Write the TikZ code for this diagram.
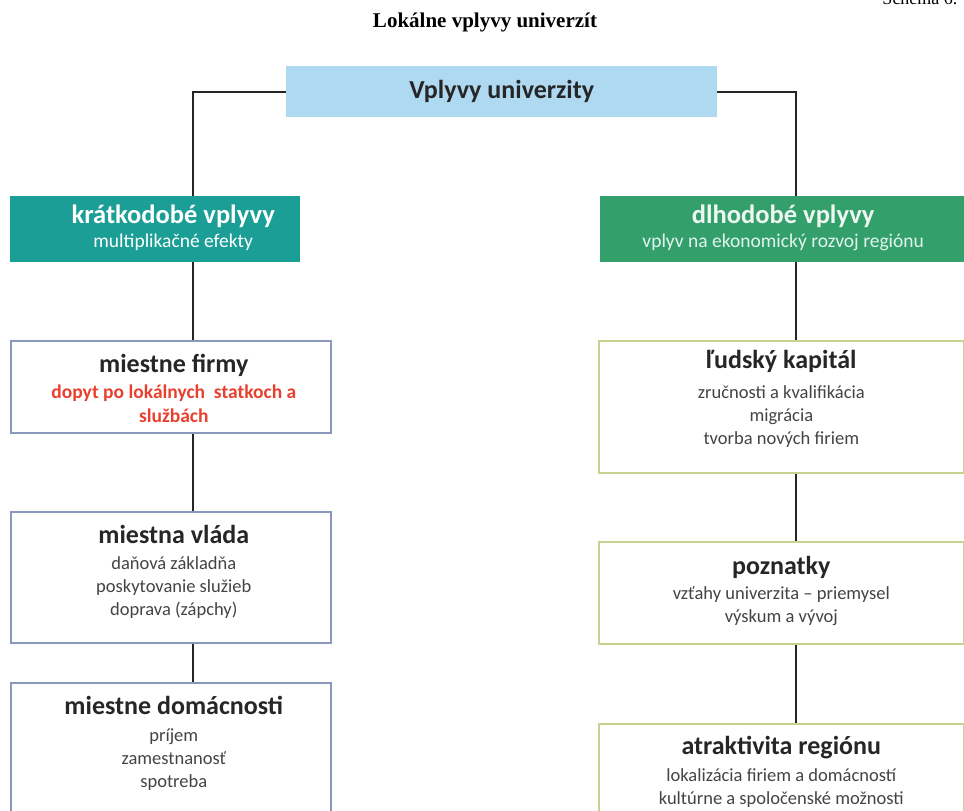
\documentclass[tikz,border=0pt]{standalone}
\usepackage{fontspec}
\setmainfont{Carlito}
\newfontfamily\titulfont{Liberation Serif}
\newcommand{\hlavafont}{\bfseries\fontsize{26}{28}\selectfont}
\definecolor{modra}{HTML}{AED9F1}
\definecolor{tyrkys}{HTML}{1A9E96}
\definecolor{zelena}{HTML}{33A06C}
\definecolor{ramecl}{HTML}{8A98BD}
\definecolor{ramecp}{HTML}{C8D18F}
\definecolor{cervena}{HTML}{E8402F}
\definecolor{seda}{HTML}{444444}
\definecolor{svetla}{HTML}{E2F4EE}
\begin{document}
\begin{tikzpicture}[x=1pt,y=-1pt,
 ciara/.style={line width=2.4pt,draw=black!85},
 boxl/.style={draw=ramecl,line width=1.6pt,anchor=north west,minimum width=320,inner sep=0},
 boxp/.style={draw=ramecp,line width=1.6pt,anchor=north west,minimum width=365,inner sep=0},
 popis/.style={anchor=north,inner sep=0,align=center,text=seda,font=\fontsize{18.5}{23}\selectfont}]
\useasboundingbox[fill=white] (0,0) rectangle (964,811);
\node[font=\titulfont\fontsize{18}{20}\selectfont,anchor=base east] (schema) at (961,5) {Schéma 6.};
\node[font=\titulfont\bfseries\fontsize{21}{24}\selectfont] (titul) at (485,22) {Lokálne vplyvy univerzít};

\node[fill=modra,minimum width=431,minimum height=51,anchor=north west,inner sep=0] (vplyvy) at (286,66) {};
\node[font=\bfseries\fontsize{26}{28}\selectfont,text=black!85] (vplyvy-t) at (vplyvy.center) {Vplyvy univerzity};

\node[fill=tyrkys,minimum width=290,minimum height=66,anchor=north west,inner sep=0] (kratko) at (10,196) {};
\node[popis,text=white,font=\fontsize{19.5}{23}\selectfont] (kratko-t) at ([xshift=18,yshift=-9]kratko.north) {{\bfseries\fontsize{26.5}{28}\selectfont krátkodobé vplyvy}\\[1pt] multiplikačné efekty};
\node[fill=zelena,minimum width=366,minimum height=66,anchor=north west,inner sep=0] (dlho) at (600,196) {};
\node[popis,text=svetla,font=\fontsize{19.5}{23}\selectfont] (dlho-t) at ([yshift=-9]dlho.north) {{\bfseries\fontsize{26.5}{28}\selectfont\color{white!92!zelena} dlhodobé vplyvy}\\[1pt] vplyv na ekonomický rozvoj regiónu};

\node[boxl,minimum height=92] (firmy) at (10,340) {};
\node[popis,font=\fontsize{19.5}{23}\selectfont] (firmy-t) at ([xshift=3,yshift=-14.5]firmy.north) {{\hlavafont\color{black!85} miestne firmy}\\[3pt] {\bfseries\color{cervena} dopyt po lokálnych\ \ statkoch a}\\[1pt] {\bfseries\color{cervena} službách}};
\node[boxl,minimum height=131] (vlada) at (10,511) {};
\node[popis] (vlada-t) at ([xshift=3,yshift=-14]vlada.north) {{\hlavafont\color{black!85} miestna vláda}\\[3pt] daňová základňa\\ poskytovanie služieb\\ doprava (zápchy)};
\node[boxl,minimum height=160] (domacnosti) at (10,682) {};
\node[popis] (domacnosti-t) at ([xshift=3,yshift=-14]domacnosti.north) {{\hlavafont\color{black!85} miestne domácnosti}\\[4pt] príjem\\ zamestnanosť\\ spotreba};

\node[boxp,minimum height=132] (kapital) at (598,340) {};
\node[popis] (kapital-t) at ([yshift=-10]kapital.north) {{\hlavafont\color{black!85} ľudský kapitál}\\[7pt] zručnosti a kvalifikácia\\ migrácia\\ tvorba nových firiem};
\node[boxp,minimum height=102] (poznatky) at (598,541) {};
\node[popis] (poznatky-t) at ([yshift=-15]poznatky.north) {{\hlavafont\color{black!85} poznatky}\\[2pt] vzťahy univerzita -- priemysel\\ výskum a vývoj};
\node[boxp,minimum height=130] (atrakt) at (598,723) {};
\node[popis] (atrakt-t) at ([yshift=-13]atrakt.north) {{\hlavafont\color{black!85} atraktivita regiónu}\\[4pt] lokalizácia firiem a domácností\\ kultúrne a spoločenské možnosti};

\coordinate (lx) at (193,0);
\coordinate (px) at (796,0);
\draw[ciara] (vplyvy.west) -| (lx |- kratko.north);
\draw[ciara] (vplyvy.east) -| (px |- dlho.north);
\draw[ciara] (lx |- kratko.south) -- (lx |- firmy.north);
\draw[ciara] (lx |- firmy.south) -- (lx |- vlada.north);
\draw[ciara] (lx |- vlada.south) -- (lx |- domacnosti.north);
\draw[ciara] (px |- dlho.south) -- (px |- kapital.north);
\draw[ciara] (px |- kapital.south) -- (px |- poznatky.north);
\draw[ciara] (px |- poznatky.south) -- (px |- atrakt.north);
\end{tikzpicture}
\end{document}
